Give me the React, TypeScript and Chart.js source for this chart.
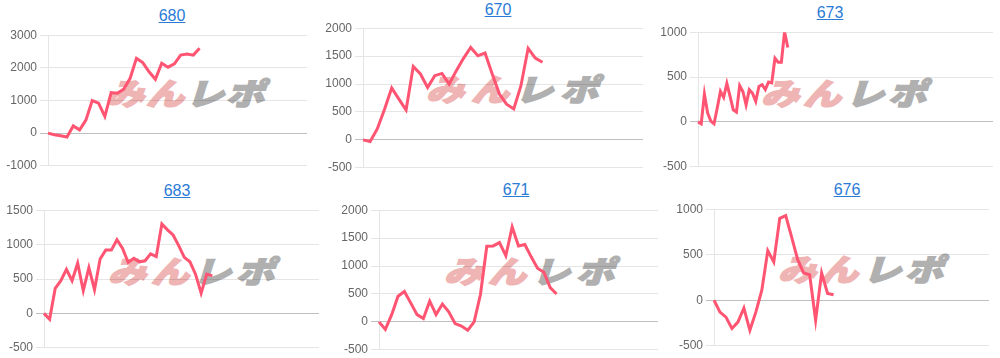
import React, { useEffect, useRef } from 'react';
import { Chart, registerables } from 'chart.js';

Chart.register(...registerables);

// ---- data ----
const titles = ['680', '670', '673', '683', '671', '676'];

const values680 = [0, -50, -80, -120, 220, 100, 400, 1000, 920, 510, 1240, 1220, 1350, 1680, 2290, 2160, 1880, 1650, 2140, 2020, 2120, 2390, 2420, 2390, 2600];
const values670 = [0, -30, 200, 550, 930, 730, 535, 1315, 1180, 940, 1150, 1190, 1000, 1240, 1460, 1655, 1505, 1555, 1180, 820, 640, 555, 970, 1640, 1465, 1390];
const values673 = [0, -20, 310, 100, 10, -20, 155, 340, 275, 430, 285, 135, 110, 405, 340, 190, 360, 320, 230, 395, 415, 360, 445, 435, 710, 665, 665, 1005, 830];
const values683 = [0, -85, 365, 475, 640, 475, 730, 330, 665, 345, 790, 920, 920, 1070, 945, 740, 800, 750, 765, 865, 825, 1300, 1215, 1140, 985, 815, 750, 570, 295, 570, 545];
const values671 = [0, -135, 130, 460, 545, 340, 130, 60, 370, 130, 320, 180, -30, -75, -150, 0, 490, 1355, 1360, 1420, 1185, 1700, 1360, 1385, 1165, 960, 890, 615, 500];
const values676 = [0, -130, -185, -310, -240, -85, -330, -130, 110, 545, 420, 900, 930, 690, 445, 300, 280, -220, 300, 75, 60];

const seriesList = [values680, values670, values673, values683, values671, values676];

// number of x categories per chart (x axis hidden)
const categoryCounts = [42, 40, 93, 50, 45, 47];

const yMins = [-1000, -500, -500, -500, -500, -500];
const yMaxs = [3000, 2000, 1000, 1500, 2000, 1000];
const ySteps = [1000, 500, 500, 500, 500, 500];

// ---- layout (positions only) ----
// Chart.js pads a vertical axis by half a label height plus tick padding (7.2 + 3)
const PAD = 10.2;
type Layout = {
  left: number; right: number; plotTop: number; plotBottom: number; axisW: number;
  titleX: number; titleY: number;
  logo: [number, number, number, number];
};

const layouts: Layout[] = [
  { left: 0, right: 307, plotTop: 35, plotBottom: 166, axisW: 48, titleX: 172, titleY: 16, logo: [110, 77, 158, 29] },
  { left: 315, right: 643, plotTop: 28.5, plotBottom: 168, axisW: 48, titleX: 498, titleY: 10, logo: [430, 73, 172, 29] },
  { left: 650, right: 993, plotTop: 32.3, plotBottom: 166.7, axisW: 48, titleX: 830, titleY: 13, logo: [765, 77, 165, 29] },
  { left: 0, right: 319, plotTop: 210, plotBottom: 347.3, axisW: 44, titleX: 177, titleY: 191, logo: [112, 255, 166, 30] },
  { left: 335, right: 658, plotTop: 210, plotBottom: 350, axisW: 44, titleX: 516, titleY: 190, logo: [448, 254, 170, 31] },
  { left: 670, right: 989, plotTop: 209.3, plotBottom: 345.7, axisW: 44, titleX: 847, titleY: 190, logo: [782, 253, 165, 30] },
];

const LINE_COLOR = 'rgb(255, 84, 114)';

function Logo({ box }: { box: [number, number, number, number] }) {
  const [l, t, w, h] = box;
  const chars: [string, string][] = [
    ['み', '#efb4b4'],
    ['ん', '#efb4b4'],
    ['レ', '#b0b0b0'],
    ['ポ', '#b0b0b0'],
  ];
  return (
    <div
      style={{
        position: 'absolute', left: l, top: t, width: w, height: h,
        display: 'flex', justifyContent: 'space-between', alignItems: 'center',
        overflow: 'visible',
      }}
    >
      {chars.map(([c, col], i) => (
        <span
          key={i}
          style={{
            display: 'inline-block',
            fontFamily: '"Noto Sans CJK JP", sans-serif',
            fontWeight: 900,
            fontSize: 38,
            lineHeight: `${h}px`,
            color: col,
            WebkitTextStroke: `2px ${col}`,
            transform: 'scaleY(0.8) skewX(-14deg)',
          }}
        >
          {c}
        </span>
      ))}
    </div>
  );
}

function Panel({ idx }: { idx: number }) {
  const ref = useRef<HTMLCanvasElement | null>(null);
  const lay = layouts[idx];
  const cTop = Math.round(lay.plotTop - PAD);
  const cH = Math.round(lay.plotBottom + PAD) - cTop;
  const cW = lay.right - lay.left;
  useEffect(() => {
    if (!ref.current) return;
    const labels = Array.from({ length: categoryCounts[idx] }, (_, i) => String(i + 1));
    const chart = new Chart(ref.current, {
      type: 'line',
      data: {
        labels,
        datasets: [
          {
            data: seriesList[idx],
            borderColor: LINE_COLOR,
            backgroundColor: LINE_COLOR,
            borderWidth: 3,
            pointRadius: 0,
            pointHoverRadius: 0,
            fill: false,
            tension: 0,
          },
        ],
      },
      options: {
        animation: false,
        responsive: false,
        devicePixelRatio: 1,
        layout: { autoPadding: false, padding: 0 },
        plugins: { legend: { display: false }, tooltip: { enabled: false }, title: { display: false } },
        scales: {
          x: { display: false },
          y: {
            min: yMins[idx],
            max: yMaxs[idx],
            ticks: {
              stepSize: ySteps[idx],
              color: '#666',
              font: { size: 12 },
              autoSkip: false,
              callback: (v: any) => String(v),
            },
            grid: {
              color: (ctx: any) => (ctx.tick && ctx.tick.value === 0 ? 'rgba(0,0,0,0.25)' : 'rgba(0,0,0,0.1)'),
            },
            border: { color: 'rgba(0,0,0,0.1)' },
            afterFit: (axis: any) => {
              axis.width = lay.axisW;
            },
          },
        },
      },
    });
    return () => chart.destroy();
  }, [idx]);

  return (
    <>
      <Logo box={lay.logo} />
      <canvas
        ref={ref}
        width={cW}
        height={cH}
        style={{ position: 'absolute', left: lay.left, top: cTop, width: cW, height: cH }}
      />
      <a
        href="#"
        style={{
          position: 'absolute', left: lay.titleX, top: lay.titleY,
          transform: 'translate(-50%, -50%)',
          fontFamily: '"Liberation Sans", Arial, sans-serif',
          fontSize: 16, lineHeight: '16px',
          color: '#2a7bd6', textDecoration: 'underline', whiteSpace: 'nowrap',
        }}
      >
        {titles[idx]}
      </a>
    </>
  );
}

export default function App() {
  return (
    <div
      style={{
        position: 'fixed', left: 0, top: 0, width: 1000, height: 358,
        background: '#fff', overflow: 'hidden',
      }}
    >
      {titles.map((_, i) => (
        <Panel key={i} idx={i} />
      ))}
    </div>
  );
}
